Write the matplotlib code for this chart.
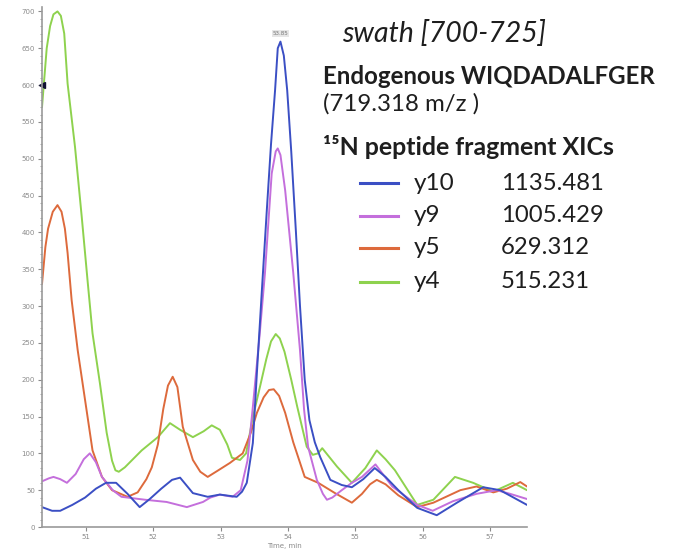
import matplotlib
matplotlib.use("Agg")
import matplotlib.pyplot as plt
from matplotlib.ticker import MultipleLocator

# ---------------- data ----------------
t_y4 = [50.35, 50.42, 50.47, 50.52, 50.58, 50.63, 50.68, 50.73, 50.84, 50.94, 51.03, 51.10, 51.21,
        51.31, 51.39, 51.44, 51.49, 51.58, 51.83, 52.07, 52.25, 52.40, 52.59, 52.75, 52.87, 52.99,
        53.10, 53.17, 53.29, 53.38, 53.48, 53.59, 53.68, 53.75, 53.82, 53.88, 53.95, 54.05, 54.14,
        54.28, 54.37, 54.45, 54.51, 54.73, 54.95, 55.15, 55.32, 55.45, 55.59, 55.92, 56.16, 56.48,
        56.75, 57.05, 57.34, 57.55]
i_y4 = [570, 650, 680, 696, 700, 694, 670, 602, 516, 421, 331, 263, 195,
        128, 90, 77, 75, 81, 104, 122, 141, 132, 122, 130, 138, 132,
        112, 94, 91, 100, 149, 192, 228, 252, 262, 256, 238, 200, 163,
        109, 98, 100, 107, 82, 60, 80, 104, 92, 77, 30, 37, 68,
        60, 48, 60, 50]

t_y5 = [50.35, 50.40, 50.44, 50.51, 50.58, 50.64, 50.69, 50.73, 50.79, 50.88, 50.99, 51.10, 51.24,
        51.39, 51.62, 51.77, 51.90, 51.98, 52.07, 52.15, 52.22, 52.29, 52.36, 52.44, 52.59, 52.70,
        52.81, 52.95, 53.14, 53.33, 53.45, 53.54, 53.64, 53.72, 53.79, 53.87, 53.96, 54.08, 54.25,
        54.45, 54.70, 54.95, 55.10, 55.22, 55.32, 55.45, 55.64, 55.92, 56.16, 56.56, 56.80, 57.05,
        57.25, 57.45, 57.55]
i_y5 = [330, 380, 405, 428, 437, 428, 405, 372, 308, 240, 172, 104, 68,
        50, 41, 47, 65, 81, 112, 160, 192, 204, 190, 136, 91, 75,
        68, 76, 87, 100, 128, 155, 176, 186, 187, 178, 155, 115, 68,
        60, 46, 33, 45, 58, 64, 58, 43, 27, 33, 50, 55, 47,
        52, 61, 55]

t_y9 = [50.35, 50.45, 50.52, 50.62, 50.72, 50.85, 50.97, 51.06, 51.15, 51.24, 51.40, 51.53, 51.88,
        52.20, 52.50, 52.74, 52.85, 52.99, 53.18, 53.30, 53.40, 53.48, 53.58, 53.66, 53.76, 53.82,
        53.85, 53.89, 53.96, 54.08, 54.18, 54.24, 54.30, 54.43, 54.52, 54.58, 54.66, 54.80, 54.95,
        55.10, 55.30, 55.55, 55.92, 56.15, 56.45, 56.80, 57.10, 57.30, 57.55]
i_y9 = [62, 66, 68, 65, 60, 72, 92, 100, 88, 68, 50, 41, 37,
        34, 27, 34, 40, 44, 41, 50, 90, 163, 260, 345, 480, 510,
        514, 505, 457, 345, 240, 160, 109, 64, 45, 37, 40, 50, 60,
        68, 85, 55, 30, 22, 35, 45, 50, 45, 38]

t_y10 = [50.35, 50.50, 50.62, 50.80, 50.99, 51.15, 51.30, 51.45, 51.62, 51.80, 51.95, 52.12, 52.28,
         52.40, 52.59, 52.81, 52.99, 53.24, 53.32, 53.39, 53.48, 53.54, 53.62, 53.69, 53.75, 53.81,
         53.85, 53.89, 53.94, 53.99, 54.05, 54.12, 54.18, 54.25, 54.32, 54.40, 54.48, 54.63, 54.80,
         54.95, 55.12, 55.29, 55.45, 55.64, 55.92, 56.21, 56.51, 56.90, 57.15, 57.55]
i_y10 = [27, 22, 22, 30, 40, 52, 60, 60, 45, 27, 38, 52, 64,
         67, 46, 41, 44, 41, 48, 60, 114, 209, 330, 434, 520, 593,
         650, 659, 640, 593, 510, 400, 300, 200, 145, 115, 95, 64, 57,
         54, 65, 80, 68, 50, 26, 16, 33, 54, 50, 30]

series = [("y10", "1135.481", "#3b4fc4", t_y10, i_y10),
          ("y9", "1005.429", "#c46fdc", t_y9, i_y9),
          ("y5", "629.312", "#dd6a3c", t_y5, i_y5),
          ("y4", "515.231", "#8ed24e", t_y4, i_y4)]

x_ticks = [51, 52, 53, 54, 55, 56, 57]
y_ticks = list(range(0, 701, 50))
peak_label = "53.85"
marker_level = 600

# ---------------- figure ----------------
W, H = 673, 554
fig = plt.figure(figsize=(W / 100, H / 100), dpi=100)
ax = fig.add_axes([42 / W, 1 - 527 / H, (527 - 42) / W, (527 - 7) / H])

# draw green first so blue ends on top
for name, mz, col, t, v in reversed(series):
    ax.plot(t, v, color=col, lw=1.4, solid_joinstyle="round", solid_capstyle="round")

ax.set_xlim(50.35, 57.55)
ax.set_ylim(0, 706)
ax.set_xticks(x_ticks)
ax.set_yticks(y_ticks)
ax.yaxis.set_minor_locator(MultipleLocator(10))
for s in ("top", "right"):
    ax.spines[s].set_visible(False)
for s in ("left", "bottom"):
    ax.spines[s].set_color("#9a9a9a")
    ax.spines[s].set_linewidth(1.2)
ax.tick_params(axis="both", which="major", labelsize=5, colors="#8a8a8a",
               length=3, width=0.8, pad=2)
ax.tick_params(axis="y", which="minor", length=1.5, width=0.6, colors="#9a9a9a")
ax.set_xlabel("Time, min", fontsize=5, color="#8a8a8a", labelpad=2)

# peak apex label
ax.annotate(peak_label, xy=(t_y10[27], i_y10[27]), xytext=(0, 4),
            textcoords="offset points", ha="center", va="bottom", fontsize=4,
            color="#777777",
            bbox=dict(boxstyle="square,pad=0.15", fc="#e6e6e6", ec="none"))

# marker at 600 on the axis
ax.plot([ax.get_xlim()[0]], [marker_level], marker="<", color="#111133",
        markersize=5, clip_on=False)

# ---------------- right-hand text ----------------
FAM = ["Lato", "DejaVu Sans"]


def ftxt(x, y, s, **kw):
    fig.text(x / W, 1 - y / H, s, va="center", ha="left", color="#1e1e1e", family=FAM, **kw)


ftxt(342, 33, "swath [700-725]", fontsize=20.5, style="italic")
ftxt(323, 77, "Endogenous WIQDADALFGER", fontsize=17.3, weight="bold")
ftxt(323, 104, "(719.318 m/z )", fontsize=17.3)
ftxt(323, 147, "¹⁵N peptide fragment XICs", fontsize=17.9, weight="bold")

row_y = [183, 216, 248, 282]
for (name, mz, col, t, v), yy in zip(series, row_y):
    fig.add_artist(plt.Line2D([360 / W, 398 / W], [1 - yy / H, 1 - yy / H],
                              color=col, lw=2.2, transform=fig.transFigure))
    ftxt(414, yy, name, fontsize=17.5)
    ftxt(501, yy, mz, fontsize=17.2)

fig.savefig("out.png", dpi=100, facecolor="white")
